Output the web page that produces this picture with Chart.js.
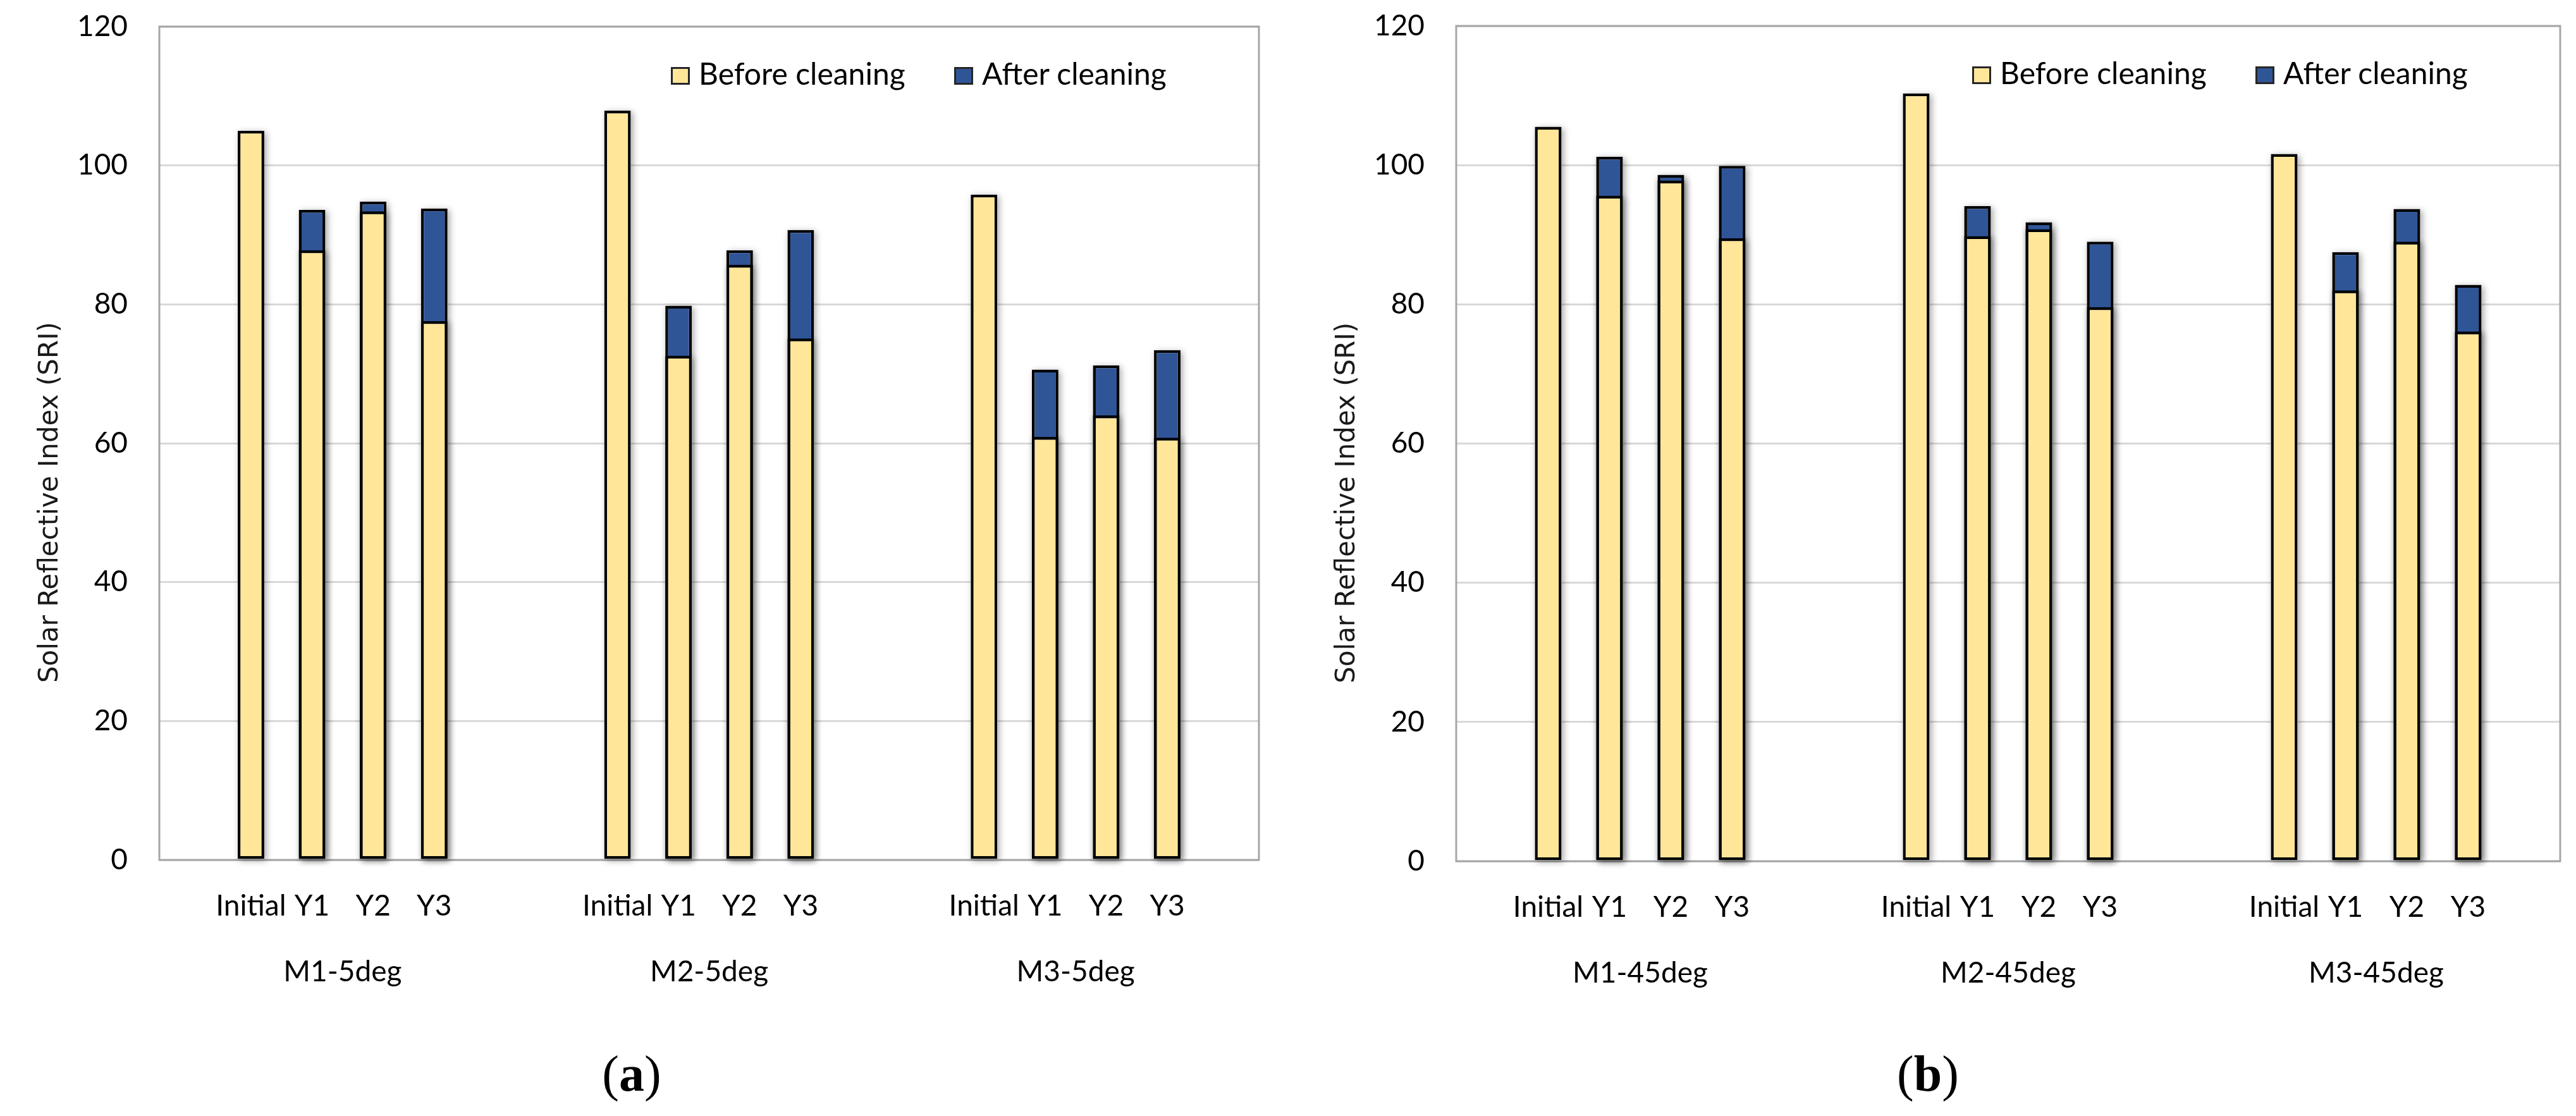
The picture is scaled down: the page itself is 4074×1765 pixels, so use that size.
<!DOCTYPE html>
<html>
<head>
<meta charset="utf-8">
<script src="https://cdn.jsdelivr.net/npm/chart.js@4.4.1/dist/chart.umd.min.js"></script>
<style>
  html, body { margin: 0; padding: 0; background: #fff; }
  #page { position: relative; width: 4074px; height: 1765px; overflow: hidden; }
  .panel { position: absolute; top: 0; width: 2037px; height: 1765px; }
  .panel canvas { position: absolute; left: 0; top: 0; }
  .key { position: absolute; box-sizing: border-box; width: 30px; height: 28px; border: 3px solid #262626; }
  .keytext { position: absolute; font: 48px Lato; line-height: 48px; color: #000; white-space: nowrap; }
  .caption { position: absolute; width: 300px; top: 1658px; text-align: center;
             font: 80px "Liberation Serif"; line-height: 80px; color: #000; }
</style>
</head>
<body>
<div id="page">
  <div class="panel" id="panelA" style="left:0">
    <canvas id="chartA" width="2037" height="1600"></canvas>
    <div class="caption" style="left:849px">(<b>a</b>)</div>
  </div>
  <div class="panel" id="panelB" style="left:2037px">
    <canvas id="chartB" width="2037" height="1600"></canvas>
    <div class="caption" style="left:862px">(<b>b</b>)</div>
  </div>
</div>
<script>
const years = ['Initial', 'Y1', 'Y2', 'Y3'];
const groupsA = ['M1-5deg', 'M2-5deg', 'M3-5deg'];
const groupsB = ['M1-45deg', 'M2-45deg', 'M3-45deg'];
const seriesNames = ['Before cleaning', 'After cleaning'];
const yTicks = [0, 20, 40, 60, 80, 100, 120];
const yTitle = 'Solar Reflective Index (SRI)';

// (a) 5 deg: per group Initial, Y1, Y2, Y3
const beforeA = [105.0, 87.8, 93.4, 77.6, 107.9, 72.6, 85.7, 75.1, 95.8, 60.9, 64.0, 60.8];
const afterA = [null, 93.6, 94.8, 93.8, null, 79.8, 87.8, 90.7, null, 70.6, 71.2, 73.4];
// (b) 45 deg
const beforeB = [105.5, 95.6, 97.8, 89.5, 110.3, 89.8, 90.8, 79.6, 101.6, 82.0, 89.0, 76.1];
const afterB = [null, 101.2, 98.6, 99.9, null, 94.1, 91.8, 89.0, null, 87.5, 93.7, 82.8];

const colors = ['#FFE699', '#2F5597'];

// every group takes 6 slots: empty, Initial, Y1, Y2, Y3, empty
function slots(values) {
  const out = [];
  for (let g = 0; g < 3; g++) {
    out.push(null, ...values.slice(g * 4, g * 4 + 4), null);
  }
  return out;
}
const slotLabels = groupsA.flatMap(() => ['', ...years, '']);

Chart.defaults.font.family = 'Lato';
Chart.defaults.color = '#000';

const frame = {
  id: 'frame',
  beforeDatasetsDraw(chart) {
    const { ctx, chartArea: a } = chart;
    ctx.save();
    ctx.strokeStyle = '#A6A6A6';
    ctx.lineWidth = 3;
    ctx.strokeRect(a.left, a.top, a.right - a.left, a.bottom - a.top);
    ctx.restore();
  }
};

// soft drop shadow behind every bar, like the Excel original
const barShadow = {
  id: 'barShadow',
  beforeDatasetsDraw(chart) {
    const ctx = chart.ctx;
    ctx.save();
    ctx.shadowColor = 'rgba(0,0,0,0.35)';
    ctx.shadowBlur = 10;
    ctx.shadowOffsetX = 3;
    ctx.shadowOffsetY = 2;
    ctx.fillStyle = '#fff';
    chart.data.datasets.forEach((ds, i) => {
      chart.getDatasetMeta(i).data.forEach((bar, j) => {
        if (ds.data[j] == null) return;
        const { x, y, base, width } = bar.getProps(['x', 'y', 'base', 'width'], true);
        ctx.fillRect(x - width / 2, Math.min(y, base), width, Math.abs(base - y));
      });
    });
    ctx.restore();
  }
};

const sideTitle = {
  id: 'sideTitle',
  afterDraw(chart) {
    const { ctx, chartArea: a } = chart;
    ctx.save();
    ctx.translate(a.left - 172, a.top + 0.571 * (a.bottom - a.top));
    ctx.rotate(-Math.PI / 2);
    ctx.font = '42px "DejaVu Sans"';
    ctx.fillStyle = '#1a1a1a';
    ctx.textAlign = 'center';
    ctx.textBaseline = 'middle';
    ctx.fillText(yTitle, 0, 0);
    ctx.restore();
  }
};

function makeChart(id, before, after, groups, box) {
  return new Chart(document.getElementById(id), {
    type: 'bar',
    data: {
      labels: slotLabels,
      datasets: [
        { label: seriesNames[0], data: slots(before), backgroundColor: colors[0] },
        { label: seriesNames[1], data: slots(after), backgroundColor: colors[1] }
      ]
    },
    options: {
      responsive: false,
      animation: false,
      layout: { padding: { left: 0, top: box.top, right: box.right, bottom: 0 } },
      datasets: {
        bar: {
          borderColor: '#000',
          borderWidth: 4.5,
          borderSkipped: false,
          barPercentage: 0.435,
          categoryPercentage: 1
        }
      },
      scales: {
        x: {
          stacked: true,
          weight: 0,
          grid: { display: false },
          border: { display: false },
          ticks: { autoSkip: false, maxRotation: 0, padding: 38, font: { size: 46 } },
          afterFit: s => { s.height = 100; }
        },
        x2: {
          type: 'category',
          labels: groups,
          offset: true,
          position: 'bottom',
          weight: 1,
          grid: { display: false },
          border: { display: false },
          ticks: { padding: 42, font: { size: 46 } },
          afterFit: s => { s.height = box.groupH; }
        },
        y: {
          stacked: false,
          min: yTicks[0],
          max: yTicks[yTicks.length - 1],
          ticks: { stepSize: yTicks[1] - yTicks[0], padding: 50, font: { size: 46 } },
          grid: { color: '#D9D9D9', lineWidth: 3, drawTicks: false },
          border: { display: false },
          afterFit: s => {
            s.width = box.left;
            s.paddingTop = 0;
            s.paddingBottom = 0;
          }
        }
      },
      plugins: {
        legend: { display: false },
        tooltip: { enabled: false }
      }
    },
    plugins: [frame, barShadow, sideTitle]
  });
}

function placeLegend(chart, panel) {
  const a = chart.chartArea;
  const items = [
    { name: seriesNames[0], color: colors[0], off: 930 },
    { name: seriesNames[1], color: colors[1], off: 482 }
  ];
  items.forEach(it => {
    const key = document.createElement('div');
    key.className = 'key';
    key.style.left = (a.right - it.off) + 'px';
    key.style.top = (a.top + 64) + 'px';
    key.style.background = it.color;
    const txt = document.createElement('div');
    txt.className = 'keytext';
    txt.textContent = it.name;
    txt.style.left = (a.right - it.off + 44) + 'px';
    txt.style.top = (a.top + 50) + 'px';
    panel.append(key, txt);
  });
}

Promise.all([
  document.fonts.load('46px Lato'),
  document.fonts.load('42px "DejaVu Sans"')
]).catch(() => {}).then(() => {
  const chartA = makeChart('chartA', beforeA, afterA, groupsA, { left: 252, top: 42, right: 46, groupH: 140 });
  const chartB = makeChart('chartB', beforeB, afterB, groupsB, { left: 266, top: 41, right: 25, groupH: 138 });
  placeLegend(chartA, document.getElementById('panelA'));
  placeLegend(chartB, document.getElementById('panelB'));
});
</script>
</body>
</html>
